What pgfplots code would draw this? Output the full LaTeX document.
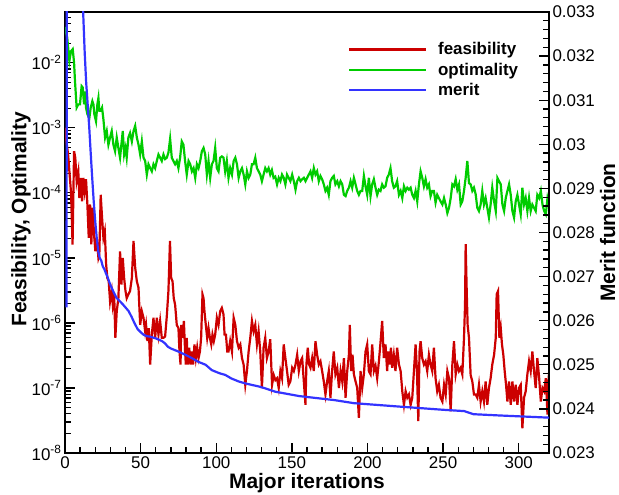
\documentclass[border=0pt]{standalone}
\usepackage{fontspec}
\setmainfont{Liberation Sans}
\usepackage{pgfplots}
\pgfplotsset{compat=1.18}
\usetikzlibrary{calc}
\definecolor{cred}{RGB}{204,0,0}
\definecolor{cgreen}{RGB}{0,204,0}
\definecolor{cblue}{RGB}{51,51,255}
\begin{document}
\begin{tikzpicture}
\pgfplotsset{
  every axis/.append style={
    width=484bp, height=441bp, scale only axis,
    xmin=0, xmax=320,
    tick label style={font=\fontsize{17}{17}\selectfont},
    label style={font=\fontsize{21}{21}\selectfont\bfseries},
    axis line style={line width=2bp},
    tick align=inside,
    major tick length=10bp, minor tick length=6bp,
    every tick/.style={black, line width=1.3bp},
    /pgf/number format/assume math mode=true,
  }
}
\begin{axis}[name=ax1, ymode=log, ymin=1e-8, ymax=6.03e-2,
  xtick={0,50,100,150,200,250,300}, minor x tick num=4,
  xtick pos=left, ytick pos=left,
  ytick={1e-8,1e-7,1e-6,1e-5,1e-4,1e-3,1e-2},
  yticklabels={10\textsuperscript{-8},10\textsuperscript{-7},10\textsuperscript{-6},10\textsuperscript{-5},10\textsuperscript{-4},10\textsuperscript{-3},10\textsuperscript{-2}},
  minor ytick={2e-8,3e-8,4e-8,5e-8,6e-8,7e-8,8e-8,9e-8,
    2e-7,3e-7,4e-7,5e-7,6e-7,7e-7,8e-7,9e-7,
    2e-6,3e-6,4e-6,5e-6,6e-6,7e-6,8e-6,9e-6,
    2e-5,3e-5,4e-5,5e-5,6e-5,7e-5,8e-5,9e-5,
    2e-4,3e-4,4e-4,5e-4,6e-4,7e-4,8e-4,9e-4,
    2e-3,3e-3,4e-3,5e-3,6e-3,7e-3,8e-3,9e-3,
    2e-2,3e-2,4e-2,5e-2,6e-2},
  xlabel={Major iterations}, ylabel={Feasibility, Optimality},
  xlabel style={at={(axis description cs:0.5,-0.068)}, anchor=center},
  ylabel style={at={(axis description cs:-0.091,0.53)}, anchor=center},
]
\addplot[cred, line width=2.2bp] table {
x y
0 1.0e-3
1 6.0e-4
2 4.0e-4
3 2.0e-4
4 1.0e-4
5 1.6e-5
6.0 4.37e-4
6.8 3.47e-4
7.7 1.51e-4
8.8 2.14e-4
9.5 8.32e-5
10.4 1.70e-4
11.3 7.41e-5
12.1 1.70e-4
13.0 1.07e-4
13.9 1.62e-4
14.8 6.61e-5
15.7 2.04e-5
16.6 6.61e-5
17.4 1.62e-5
18.3 5.89e-5
19.2 2.29e-5
20.1 1.26e-5
21.0 2.04e-5
22.1 1.0e-5
22.7 1.12e-5
23.6 9.33e-5
24.5 4.17e-5
25.4 2.04e-5
26.3 2.57e-5
27.2 7.94e-6
28.0 4.90e-6
28.9 4.37e-6
29.8 2.14e-6
30.9 3.09e-6
31.6 1.91e-6
32.5 2.75e-6
33.3 5.89e-7
34.2 1.51e-6
35.3 2.40e-6
36.4 1.26e-5
37.3 3.89e-6
38.2 1.0e-5
39.1 4.90e-6
40.0 3.09e-6
40.8 2.40e-6
41.9 2.75e-6
43.0 3.09e-6
44.2 4.90e-6
45.3 1.82e-5
46.4 7.08e-6
47.5 4.37e-6
48.6 3.47e-6
49.7 9.33e-7
50.8 1.51e-6
51.9 1.20e-6
53.0 7.41e-7
53.6 9.33e-7
54.5 5.25e-7
55.4 8.32e-7
56.3 2.29e-7
57.4 6.61e-7
58.5 1.20e-6
59.6 5.89e-7
60.7 1.20e-6
61.8 6.61e-7
62.9 1.07e-6
64.0 5.89e-7
65.1 5.89e-7
66.2 6.2e-7
67.3 1.26e-6
68.4 3.16e-6
69.4 1.82e-5
70.2 4.90e-6
71.1 4.37e-6
71.9 2.40e-6
72.8 1.91e-6
73.9 9.33e-7
75.0 8.32e-7
75.7 3.63e-7
76.4 2.29e-7
76.8 9.33e-7
77.7 5.89e-7
78.6 1.07e-6
79.4 3.63e-7
79.9 2.29e-7
80.5 5.89e-7
81.2 2.29e-7
82.1 4.17e-7
83.0 2.29e-7
83.9 3.63e-7
84.7 2.29e-7
85.6 4.68e-7
86.5 2.88e-7
87.4 4.17e-7
88.3 2.88e-7
89.2 3.63e-7
90.0 5.89e-7
90.9 2.75e-6
91.6 2.40e-6
92.2 1.51e-6
93.1 9.33e-7
94.0 5.89e-7
94.9 8.32e-7
95.8 5.89e-7
96.7 4.68e-7
97.5 6.61e-7
98.4 5.25e-7
99.3 6.61e-7
100.4 1.20e-6
101.5 9.33e-7
102.6 1.51e-6
103.7 1.70e-6
104.8 1.35e-6
105.5 6.61e-7
106.4 6.61e-7
107.3 3.63e-7
108.1 3.63e-7
109.2 5.25e-7
110.4 3.63e-7
111.5 1.20e-6
112.6 9.33e-7
113.7 5.25e-7
114.8 4.17e-7
115.9 4.68e-7
117.0 2.88e-7
118.1 2.29e-7
119.2 1.12e-7
120.3 1.82e-7
121.4 3.63e-7
122.5 5.89e-7
123.6 1.07e-6
124.7 7.41e-7
125.8 9.33e-7
126.9 4.68e-7
128.0 7.41e-7
129.1 3.63e-7
130.2 1.0e-7
131.3 4.17e-7
132.4 5.89e-7
133.5 2.88e-7
134.6 3.63e-7
135.7 5.62e-7
136.9 1.12e-7
138.0 1.58e-7
139.1 1.32e-7
140.2 1.41e-7
141.3 1.0e-7
142.4 1.82e-7
143.5 1.41e-7
144.6 4.68e-7
145.7 2.88e-7
146.8 1.82e-7
147.9 1.12e-7
149.0 1.26e-7
150.2 2.04e-7
151.3 1.82e-7
152.4 2.29e-7
153.5 3.24e-7
154.6 1.82e-7
155.7 2.57e-7
156.8 2.88e-7
157.9 1.26e-7
159.0 5.50e-8
159.6 2.29e-7
160.5 4.17e-7
161.4 2.29e-7
162.3 2.04e-7
163.4 2.88e-7
164.5 1.82e-7
165.6 5.25e-7
166.7 3.24e-7
167.8 2.29e-7
168.9 2.57e-7
170.0 1.82e-7
171.1 1.26e-7
172.2 7.94e-8
173.3 1.26e-7
174.4 1.82e-7
175.5 7.08e-8
176.6 1.82e-7
177.7 3.63e-7
178.8 1.62e-7
180.0 2.04e-7
181.1 1.0e-7
182.2 1.82e-7
183.3 1.26e-7
184.4 2.88e-7
185.5 7.08e-8
186.6 1.82e-7
187.7 3.24e-7
188.3 9.33e-7
189.2 1.82e-7
190.1 3.24e-7
191.0 1.62e-7
192.1 1.26e-7
193.2 1.0e-7
194.3 3.47e-8
195.4 1.82e-7
196.5 1.0e-7
197.6 1.62e-7
198.7 3.63e-7
199.8 4.68e-7
200.9 1.82e-7
202.0 1.62e-7
203.1 4.68e-7
204.2 1.82e-7
205.3 2.19e-7
206.4 1.41e-7
207.5 2.51e-7
208.6 5.01e-7
209.7 1.07e-6
210.8 2.88e-7
211.9 4.68e-7
213.0 1.82e-7
213.7 3.63e-7
214.6 2.29e-7
215.5 4.17e-7
216.3 2.04e-7
217.4 3.24e-7
218.5 1.82e-7
219.6 4.17e-7
220.8 2.29e-7
221.9 1.82e-7
223.0 8.91e-8
224.1 5.50e-8
225.2 8.91e-8
226.3 7.08e-8
227.4 7.94e-8
228.5 5.50e-8
229.6 7.08e-8
230.7 1.82e-7
231.8 4.68e-7
232.7 1.82e-7
233.6 3.09e-8
234.4 3.63e-7
235.1 5.25e-7
236.2 2.88e-7
237.3 2.29e-7
238.4 2.57e-7
239.5 1.82e-7
240.6 3.24e-7
241.7 2.29e-7
242.8 1.82e-7
243.9 4.17e-7
245.0 1.41e-7
246.1 8.91e-8
247.2 1.12e-7
248.3 7.08e-8
249.5 6.17e-8
250.6 1.12e-7
251.7 7.94e-8
252.8 1.82e-7
253.9 1.41e-7
255.0 4.37e-8
256.1 2.29e-7
257.2 5.25e-7
258.3 1.62e-7
259.4 2.29e-7
260.5 1.82e-7
261.6 2.04e-7
262.7 1.62e-7
263.8 5.89e-7
264.5 1.91e-6
264.9 1.62e-5
265.6 3.09e-6
266.2 9.33e-7
267.1 5.89e-7
268.2 1.58e-7
269.3 1.26e-7
270.4 7.94e-8
271.5 7.94e-8
272.6 7.08e-8
273.7 1.12e-7
274.8 6.17e-8
275.9 8.91e-8
277.0 6.17e-8
278.1 1.26e-7
279.2 5.50e-8
280.3 1.0e-7
281.4 1.41e-7
282.5 2.29e-7
283.7 3.24e-7
284.8 5.89e-7
285.4 2.75e-6
286.3 3.09e-6
287.2 5.89e-7
288.1 8.32e-7
288.9 4.68e-7
289.8 3.24e-7
290.7 1.82e-7
291.6 1.12e-7
292.5 6.17e-8
293.6 1.26e-7
294.7 5.50e-8
295.8 1.26e-7
296.9 6.17e-8
298.0 1.12e-7
299.1 5.50e-8
300.2 1.0e-7
301.3 1.12e-7
302.4 2.40e-8
303.5 7.08e-8
304.6 8.91e-8
305.7 1.62e-7
306.8 2.57e-7
307.9 1.82e-7
309.0 3.63e-7
310.1 1.82e-7
311.2 1.0e-7
312.3 2.88e-7
313.5 1.41e-7
314.6 6.17e-8
315.7 1.0e-7
316.8 8.91e-8
317.9 1.41e-7
319.0 3.89e-8
319.6 1.26e-7
320.3 2.04e-7
};
\addplot[cgreen, line width=2.2bp] table {
x y
0 3.55e-2
1.5 2.40e-2
2.9 1.07e-2
4.0 1.51e-2
5.1 1.62e-2
6.0 1.0e-2
6.6 5.25e-3
7.7 2.04e-3
8.8 2.29e-3
9.9 2.29e-3
11.0 4.37e-3
11.7 4.17e-3
12.6 2.29e-3
13.2 3.63e-3
13.9 2.04e-3
14.8 1.62e-3
16.1 1.41e-3
17.0 2.04e-3
18.1 2.57e-3
18.8 2.29e-3
19.4 1.62e-3
20.5 1.26e-3
21.4 2.29e-3
22.1 2.88e-3
22.7 1.82e-3
23.6 1.82e-3
24.5 2.04e-3
25.4 1.35e-3
26.5 7.08e-4
27.6 8.91e-4
28.7 5.50e-4
29.8 7.08e-4
30.9 8.91e-4
32.0 5.50e-4
33.1 4.37e-4
34.2 7.08e-4
35.3 4.90e-4
36.4 3.47e-4
37.5 6.17e-4
38.2 8.91e-4
39.1 3.89e-4
40.0 4.90e-4
40.8 3.47e-4
41.9 7.08e-4
43.0 8.32e-4
44.2 6.17e-4
45.3 8.91e-4
46.4 1.07e-3
47.5 7.08e-4
48.6 5.50e-4
49.7 3.89e-4
50.8 6.17e-4
51.9 3.47e-4
53.0 3.09e-4
54.1 1.91e-4
55.2 2.75e-4
56.3 2.40e-4
57.4 2.14e-4
58.5 2.75e-4
59.6 2.40e-4
60.7 3.09e-4
61.8 3.89e-4
62.9 3.47e-4
64.0 3.09e-4
65.1 3.89e-4
66.2 3.31e-4
67.3 3.47e-4
68.4 4.17e-4
69.5 6.76e-4
70.6 3.47e-4
71.7 3.09e-4
72.8 2.75e-4
73.9 3.09e-4
75.0 2.40e-4
76.1 3.47e-4
77.2 6.17e-4
78.3 5.50e-4
79.4 3.09e-4
80.5 1.91e-4
81.7 3.09e-4
82.8 2.75e-4
83.9 2.14e-4
85.0 2.40e-4
86.1 1.70e-4
87.2 2.75e-4
88.3 2.40e-4
89.4 3.09e-4
90.5 4.37e-4
91.6 4.90e-4
92.7 3.89e-4
93.8 1.91e-4
94.9 3.09e-4
96.0 1.70e-4
97.1 2.75e-4
98.2 3.09e-4
99.3 4.90e-4
100.4 2.40e-4
101.5 2.14e-4
102.6 3.47e-4
103.7 3.63e-4
104.8 3.47e-4
105.9 2.14e-4
107.0 3.09e-4
108.1 1.70e-4
109.2 2.40e-4
110.4 1.91e-4
111.5 3.09e-4
112.6 3.47e-4
113.7 2.75e-4
114.8 1.70e-4
115.9 2.14e-4
117.0 2.40e-4
118.1 1.91e-4
119.2 1.35e-4
120.3 2.14e-4
121.4 1.70e-4
122.5 1.91e-4
123.6 2.75e-4
124.7 2.75e-4
125.8 3.47e-4
126.9 2.40e-4
128.0 2.14e-4
129.1 1.91e-4
130.2 1.51e-4
131.3 1.91e-4
132.4 2.40e-4
133.5 2.14e-4
134.6 2.40e-4
135.7 1.91e-4
136.8 2.24e-4
137.9 1.70e-4
139.0 1.78e-4
140.2 1.35e-4
141.3 1.70e-4
142.4 1.51e-4
143.5 1.91e-4
144.6 1.70e-4
145.7 1.35e-4
146.8 1.91e-4
147.9 1.70e-4
149.0 1.51e-4
150.2 1.91e-4
151.3 1.51e-4
152.4 1.12e-4
153.5 1.51e-4
154.6 1.70e-4
155.7 1.51e-4
156.8 1.62e-4
157.9 1.70e-4
159.0 1.51e-4
160.1 1.70e-4
161.2 1.91e-4
162.3 2.14e-4
163.4 1.70e-4
164.5 2.40e-4
165.6 1.91e-4
166.7 2.14e-4
167.8 1.51e-4
168.9 1.82e-4
170.0 1.62e-4
171.1 1.35e-4
172.2 1.07e-4
173.3 1.20e-4
174.4 9.33e-5
175.5 1.51e-4
176.6 1.70e-4
177.7 1.82e-4
178.8 1.35e-4
180.0 1.51e-4
181.1 1.26e-4
182.2 1.51e-4
183.3 1.35e-4
184.4 9.33e-5
185.5 8.91e-5
186.6 1.07e-4
187.7 1.20e-4
188.8 1.51e-4
189.9 1.20e-4
191.0 1.70e-4
192.1 1.35e-4
193.2 1.07e-4
194.3 9.33e-5
195.4 1.07e-4
196.5 1.07e-4
197.6 1.82e-4
198.7 1.26e-4
199.8 9.33e-5
200.9 1.70e-4
202.0 8.91e-5
203.1 1.35e-4
204.2 1.62e-4
205.3 1.20e-4
206.4 9.33e-5
207.5 1.12e-4
208.6 1.07e-4
209.7 1.35e-4
210.8 1.20e-4
211.9 1.26e-4
213.0 1.70e-4
214.1 1.91e-4
215.2 2.40e-4
216.3 1.51e-4
217.4 1.20e-4
218.5 1.26e-4
219.6 1.51e-4
220.8 9.33e-5
221.9 1.07e-4
223.0 8.32e-5
224.1 1.26e-4
225.2 1.07e-4
226.3 1.20e-4
227.4 1.12e-4
228.5 1.20e-4
229.6 9.33e-5
230.7 8.32e-5
231.8 1.07e-4
232.9 7.41e-5
234.0 1.35e-4
235.1 2.14e-4
236.2 1.70e-4
237.3 1.26e-4
238.4 1.62e-4
239.5 1.20e-4
240.6 1.35e-4
241.7 8.91e-5
242.8 1.07e-4
243.9 1.07e-4
245.0 7.08e-5
246.1 9.33e-5
247.2 8.32e-5
248.3 7.41e-5
249.5 6.61e-5
250.6 8.32e-5
251.7 6.61e-5
252.8 4.90e-5
253.9 5.89e-5
255.0 8.32e-5
256.1 1.35e-4
257.2 1.26e-4
258.3 1.62e-4
259.4 1.12e-4
260.5 1.35e-4
261.6 6.61e-5
262.7 7.41e-5
263.8 1.07e-4
264.9 1.70e-4
266.0 3.09e-4
267.1 1.41e-4
268.2 1.35e-4
269.3 1.07e-4
270.4 1.20e-4
271.5 9.55e-5
272.6 5.89e-5
273.7 5.25e-5
274.8 6.61e-5
275.9 1.07e-4
277.0 6.61e-5
278.1 8.32e-5
279.2 5.89e-5
280.3 4.17e-5
281.4 6.61e-5
282.5 1.20e-4
283.7 7.41e-5
284.8 5.25e-5
285.9 1.70e-4
287.0 1.51e-4
288.1 1.35e-4
289.2 6.61e-5
290.3 5.25e-5
291.4 8.32e-5
292.5 1.07e-4
293.6 1.35e-4
294.7 9.33e-5
295.8 5.25e-5
296.9 4.17e-5
298.0 7.41e-5
299.1 9.33e-5
300.2 6.61e-5
301.3 4.68e-5
302.4 1.20e-4
303.5 6.61e-5
304.6 8.32e-5
305.7 5.25e-5
306.8 8.32e-5
307.9 5.25e-5
309.0 6.61e-5
310.1 5.89e-5
311.2 5.25e-5
312.3 9.33e-5
313.5 8.32e-5
314.6 1.07e-4
315.7 6.61e-5
316.8 5.25e-5
317.9 4.68e-5
319.0 8.32e-5
320.1 6.61e-5
};
\end{axis}
\begin{axis}[ymin=0.023, ymax=0.033,
  axis y line*=right, axis x line=none,
  ytick={0.023,0.024,0.025,0.026,0.027,0.028,0.029,0.030,0.031,0.032,0.033},
  minor y tick num=4,
  scaled y ticks=false,
  yticklabel style={/pgf/number format/fixed, /pgf/number format/precision=3},
  ylabel={Merit function},
  ylabel style={at={(axis description cs:1.121,0.5)}, anchor=center},
  legend style={at={(axis description cs:0.578,0.94)}, anchor=north west,
    draw=none, fill=none, font=\fontsize{17}{17}\selectfont\bfseries,
    row sep=2.5bp,
    /tikz/every odd column/.append style={column sep=9bp}},
  legend cell align=left,
  legend image code/.code={\draw[#1] (0bp,0bp) -- (77bp,0bp);},
]
\addlegendimage{cred, line width=2.2bp}
\addlegendentry{feasibility}
\addlegendimage{cgreen, line width=2.2bp}
\addlegendentry{optimality}
\addplot[cblue, line width=2.2bp] table {
x y
1 0.02630
2 0.0600
4 0.0500
6 0.0440
8 0.0390
10 0.0352
11 0.0341
12 0.0330
13 0.0321
14 0.0314
15 0.0309
16 0.0304
17 0.0298
18 0.02923
19 0.0287
20 0.02825
21 0.02787
22 0.02757
23 0.02742
24 0.02736
25 0.02723
26 0.02717
27 0.02708
28 0.02700
30 0.02681
32 0.02666
34 0.02652
36 0.02645
38 0.02638
40 0.02630
42 0.02622
44 0.02609
46 0.02594
48 0.02581
50 0.02574
52 0.02568
54 0.02565
56 0.02564
58 0.02562
60 0.02560
62 0.02557
64 0.02554
66 0.02549
68 0.02541
70 0.02537
75 0.02530
80 0.02522
84 0.02515
88 0.02507
93 0.02500
97 0.02488
102 0.02481
106 0.02477
110 0.02469
115 0.02462
119 0.02458
124 0.02454
128 0.02451
132 0.02447
139 0.02439
155 0.02429
178 0.02420
191 0.02413
222 0.02405
250 0.02398
264 0.02395
270 0.02388
288 0.02385
321 0.02380
};
\addlegendentry{merit}
\end{axis}
\pgfresetboundingbox
\path[use as bounding box] ($(ax1.south west)+(-65bp,-42bp)$) rectangle ($(ax1.north east)+(70bp,12bp)$);
\end{tikzpicture}
\end{document}
